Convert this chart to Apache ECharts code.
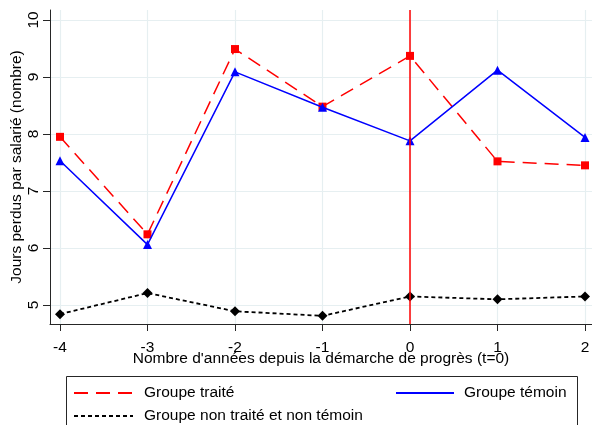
<!DOCTYPE html>
<html>
<head>
<meta charset="utf-8">
<script src="https://cdn.jsdelivr.net/npm/echarts@6/dist/echarts.min.js"></script>
<style>
  html, body { margin: 0; padding: 0; background: #fff; }
  #chart { width: 592px; height: 425px; }
</style>
</head>
<body>
<div id="chart"></div>
<script>
// Years relative to the start of the improvement process (t=0)
const years = [-4, -3, -2, -1, 0, 1, 2];
// Days lost per employee
const treated = [7.95, 6.24, 9.49, 8.48, 9.37, 7.52, 7.45];
const control = [7.53, 6.06, 9.09, 8.47, 7.88, 9.12, 7.94];
const others  = [4.84, 5.21, 4.89, 4.81, 5.15, 5.10, 5.15];
// Tick labels
const xTicks = [-4, -3, -2, -1, 0, 1, 2];
const yTicks = [5, 6, 7, 8, 9, 10];

const FONT = 'Liberation Sans, Arial, sans-serif';
const FS = 15.5;
const GRIDLINE = '#E6EFF1';
const AXIS = '#262626';

const pairs = arr => years.map((y, i) => [y, arr[i]]);

const chart = echarts.init(document.getElementById('chart'), null, { renderer: 'canvas' });

chart.setOption({
  animation: false,
  backgroundColor: '#ffffff',
  textStyle: { fontFamily: FONT },
  grid: { left: 50, right: 0, top: 10, bottom: 101, outerBoundsMode: 'none', containLabel: false },
  xAxis: {
    type: 'value',
    min: -4.114,
    max: 2.08,
    name: "Nombre d'années depuis la démarche de progrès (t=0)",
    nameLocation: 'middle',
    nameGap: 27,
    nameMoveOverlap: false,
    nameTextStyle: { fontSize: FS, color: '#000', fontFamily: FONT },
    axisLine: { show: true, onZero: false, lineStyle: { color: AXIS, width: 1 } },
    axisTick: { show: true, length: 7, customValues: xTicks, lineStyle: { color: AXIS } },
    axisLabel: { customValues: xTicks, fontSize: FS, color: '#000', margin: 16, fontFamily: FONT },
    splitLine: { show: true, lineStyle: { color: GRIDLINE, width: 1.2 } }
  },
  yAxis: {
    type: 'value',
    min: 4.667,
    max: 10.175,
    name: 'Jours perdus par salarié (nombre)',
    nameLocation: 'middle',
    nameGap: 25,
    nameMoveOverlap: false,
    nameTextStyle: { fontSize: FS, color: '#000', fontFamily: FONT },
    axisLine: { show: true, onZero: false, lineStyle: { color: AXIS, width: 1 } },
    axisTick: { show: true, length: 7, customValues: yTicks, lineStyle: { color: AXIS } },
    axisLabel: { customValues: yTicks, rotate: 90, fontSize: FS, color: '#000', margin: 8, fontFamily: FONT },
    splitLine: { show: true, lineStyle: { color: GRIDLINE, width: 1.2 } }
  },
  legend: [
    {
      left: 73, top: 385, orient: 'vertical', padding: 0,
      itemWidth: 59, itemHeight: 14, itemGap: 7,
      textStyle: { fontSize: FS, color: '#000', padding: [0, 0, 0, 6], fontFamily: FONT },
      itemStyle: { opacity: 0 },
      data: ['Groupe traité', 'Groupe non traité et non témoin'],
      selectedMode: false
    },
    {
      left: 395, top: 385, orient: 'vertical', padding: 0,
      itemWidth: 58, itemHeight: 14, itemGap: 7,
      textStyle: { fontSize: FS, color: '#000', padding: [0, 0, 0, 5], fontFamily: FONT },
      itemStyle: { opacity: 0 },
      data: ['Groupe témoin'],
      selectedMode: false
    }
  ],
  graphic: [
    {
      type: 'rect',
      shape: { x: 66.5, y: 376.5, width: 511, height: 70 },
      style: { fill: 'none', stroke: AXIS, lineWidth: 1 },
      silent: true
    }
  ],
  series: [
    {
      name: 'Groupe traité',
      type: 'line',
      data: pairs(treated),
      symbol: 'rect',
      symbolSize: 8,
      itemStyle: { color: '#FF0000' },
      lineStyle: { color: '#FF0000', width: 1.5, type: [14, 8] },
      z: 3,
      markLine: {
        silent: true,
        symbol: 'none',
        label: { show: false },
        lineStyle: { color: '#FF0000', width: 1.5, type: 'solid' },
        data: [{ xAxis: 0 }],
        z: 5
      }
    },
    {
      name: 'Groupe témoin',
      type: 'line',
      data: pairs(control),
      symbol: 'triangle',
      symbolSize: 9,
      itemStyle: { color: '#0000FF' },
      lineStyle: { color: '#0000FF', width: 1.5, type: 'solid' },
      z: 4
    },
    {
      name: 'Groupe non traité et non témoin',
      type: 'line',
      data: pairs(others),
      symbol: 'diamond',
      symbolSize: 10,
      itemStyle: { color: '#000000' },
      lineStyle: { color: '#000000', width: 1.8, type: [4, 3] },
      z: 4
    }
  ]
});
</script>
</body>
</html>
